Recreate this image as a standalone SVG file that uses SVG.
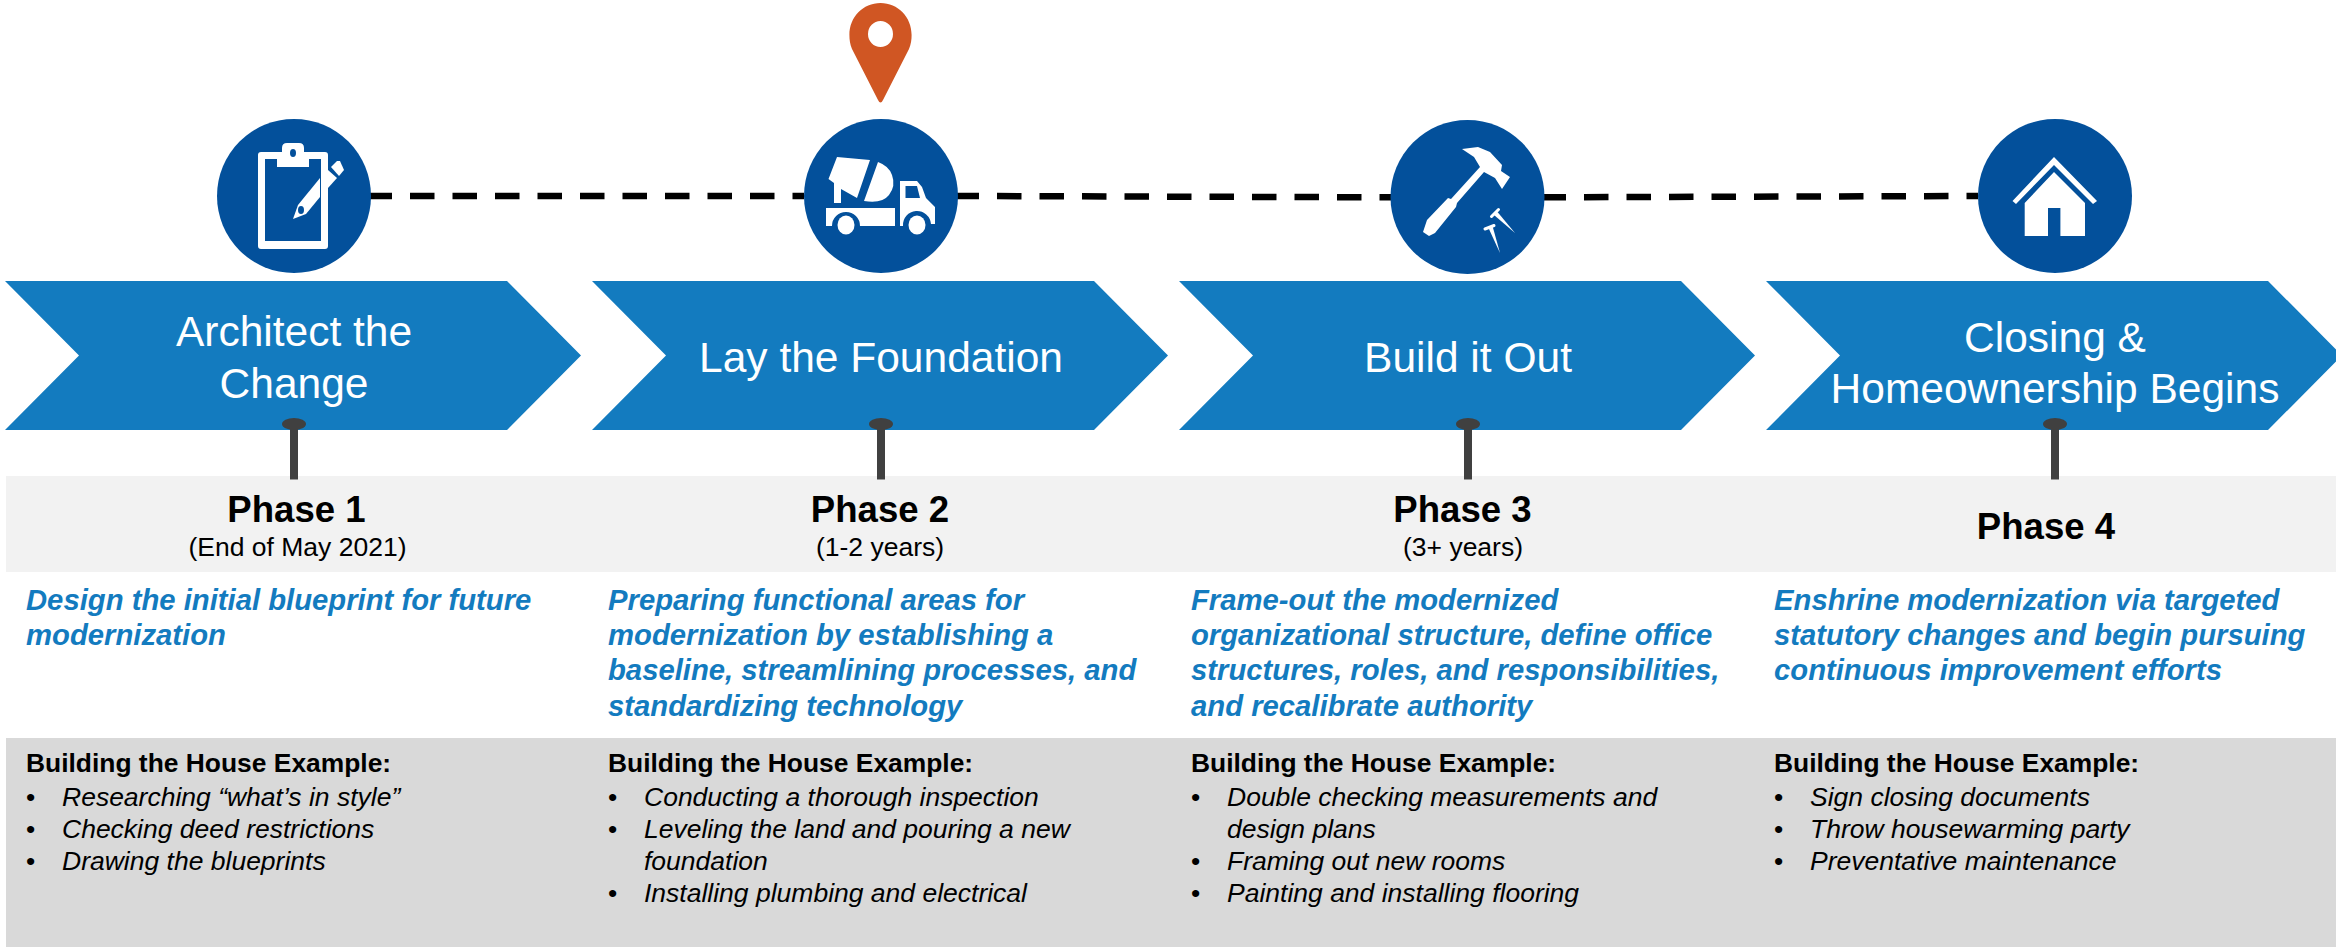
<svg xmlns="http://www.w3.org/2000/svg" width="2336" height="947" viewBox="0 0 2336 947">
<style>
text{font-family:"Liberation Sans",Arial,sans-serif}
.chev{fill:#137bbf}
.circ{fill:#03509b}
.ico{fill:#fff}
.cut{fill:#03509b}
.ct{font-size:42.500px;fill:#fff;text-anchor:middle}
.ph{font-size:36.600px;font-weight:bold;fill:#000;text-anchor:middle}
.sub{font-size:26.500px;fill:#000;text-anchor:middle}
.goal{font-size:29.250px;font-weight:bold;font-style:italic;fill:#137bbf}
.ex{font-size:26.400px;font-weight:bold;fill:#000}
.it{font-size:26.500px;font-style:italic;fill:#000}
.bu{font-size:26.400px;fill:#000}
.stem{fill:#404040}
.dash{fill:none;stroke:#000;stroke-width:6.500;stroke-dasharray:24.500 18;stroke-dashoffset:2.500}
.head{fill:none;stroke:#fff;stroke-width:3;stroke-linecap:round}
</style>
<defs>
<path id="chevron" d="M0 281H502L576 355.500L502 430H0L74 355.500Z"/>
<g id="post"><path d="M-4 424H4V479.500H-4Z"/><ellipse cx="0" cy="424" rx="12" ry="6"/></g>
</defs>
<rect id="band-phase" x="6" y="476" width="2330" height="96" fill="#f2f2f2"/>
<rect id="band-example" x="6" y="738" width="2330" height="209" fill="#d9d9d9"/>
<g id="connectors">
<path class="dash" d="M370 196H804"/>
<path class="dash" d="M957 196L1391 197.300"/>
<path class="dash" d="M1544 197.300L1978 196"/>
</g>
<g id="phase1">
<use href="#chevron" class="chev" x="5"/>
<use href="#post" class="stem" x="294"/>
<circle class="circ" cx="294" cy="196" r="77"/>
<g class="ico">
<path fill-rule="evenodd" d="M261 152H282V148Q282 143 287 143H299Q304 143 304 148V152H325Q328 152 328 155V246Q328 249 325 249H261Q258 249 258 246V155Q258 152 261 152ZM265 159V241H321V159H309V167H277V159Z"/>
<path d="M298 205L320 178V197L306 214L293 219Z"/>
<path d="M328 170L337 178L328 188Z"/>
<path d="M331 167L337 161H340L344 170L339 176Z"/>
</g>
<ellipse class="cut" cx="293" cy="153" rx="3" ry="4"/>
<ellipse class="cut" cx="301" cy="210" rx="3" ry="4"/>
<text class="ct" x="294" y="346">Architect the</text>
<text class="ct" x="294" y="398">Change</text>
<text class="ph" x="296.500" y="522">Phase 1</text>
<text class="sub" x="297.500" y="556">(End of May 2021)</text>
<text class="goal"><tspan x="26" y="610">Design the initial blueprint for future</tspan><tspan x="26" y="645">modernization</tspan></text>
<text class="ex" x="26" y="772">Building the House Example:</text>
<text class="bu" x="26" y="806">•</text><text class="it" x="62" y="806">Researching “what’s in style”</text>
<text class="bu" x="26" y="838">•</text><text class="it" x="62" y="838">Checking deed restrictions</text>
<text class="bu" x="26" y="870">•</text><text class="it" x="62" y="870">Drawing the blueprints</text>
</g>
<g id="phase2">
<use href="#chevron" class="chev" x="592"/>
<use href="#post" class="stem" x="881"/>
<circle class="circ" cx="881" cy="196" r="77"/>
<path id="pin" fill="#d05623" fill-rule="evenodd" d="M880.500 3C863 3 849.400 17 849.400 35C849.400 40 850 44 852 49L878 100Q880.500 105 883 100L909 49C911 44 911.600 40 911.600 35C911.600 17 898 3 880.500 3ZM880.500 21A12.500 13 0 1 1 880.500 47A12.500 13 0 1 1 880.500 21Z"/>
<g class="ico">
<path d="M837 157L870 160L857 198L841 189V203H834V183L828.500 179Z"/>
<path d="M878 162Q889 166 892 175Q896 186 889 195Q882 204 864 201Z"/>
<path d="M826 208H895V226H860A14 14 0 0 0 832 226H826Z"/>
<path fill-rule="evenodd" d="M900 181H917L922 187L926 198L935 207V224H931A14 14 0 0 0 903 226H900ZM905.500 186V198H920L917 186Z"/>
<ellipse cx="846" cy="225" rx="8.500" ry="9.500"/>
<ellipse cx="917" cy="225" rx="8.500" ry="9.500"/>
</g>
<text class="ct" x="881" y="372">Lay the Foundation</text>
<text class="ph" x="880" y="522">Phase 2</text>
<text class="sub" x="880" y="556">(1-2 years)</text>
<text class="goal"><tspan x="608" y="610">Preparing functional areas for</tspan><tspan x="608" y="645">modernization by establishing a</tspan><tspan x="608" y="680">baseline, streamlining processes, and</tspan><tspan x="608" y="716">standardizing technology</tspan></text>
<text class="ex" x="608" y="772">Building the House Example:</text>
<text class="bu" x="608" y="806">•</text><text class="it" x="644" y="806">Conducting a thorough inspection</text>
<text class="bu" x="608" y="838">•</text><text class="it" x="644" y="838">Leveling the land and pouring a new</text>
<text class="it" x="644" y="870">foundation</text>
<text class="bu" x="608" y="902">•</text><text class="it" x="644" y="902">Installing plumbing and electrical</text>
</g>
<g id="phase3">
<use href="#chevron" class="chev" x="1179"/>
<use href="#post" class="stem" x="1468"/>
<circle class="circ" cx="1467.500" cy="197" r="77"/>
<g class="ico">
<path d="M1462 149L1478 147L1490 152L1502 165L1501 171L1510 177L1502 189L1495 178L1484 172L1457 203L1456 207L1435 233L1429 236L1423 232L1427 220L1448 198L1451 199L1480 167L1474 157Z"/>
<path d="M1494 215L1497.500 212L1515 233Z"/>
<path d="M1488.500 228L1492.500 226L1500 253Z"/>
</g>
<path class="head" d="M1491.500 216.500L1498.500 209.500"/>
<path class="head" d="M1485 229L1494 225.500"/>
<text class="ct" x="1468" y="372">Build it Out</text>
<text class="ph" x="1462.500" y="522">Phase 3</text>
<text class="sub" x="1463" y="556">(3+ years)</text>
<text class="goal"><tspan x="1191" y="610">Frame-out the modernized</tspan><tspan x="1191" y="645">organizational structure, define office</tspan><tspan x="1191" y="680">structures, roles, and responsibilities,</tspan><tspan x="1191" y="716">and recalibrate authority</tspan></text>
<text class="ex" x="1191" y="772">Building the House Example:</text>
<text class="bu" x="1191" y="806">•</text><text class="it" x="1227" y="806">Double checking measurements and</text>
<text class="it" x="1227" y="838">design plans</text>
<text class="bu" x="1191" y="870">•</text><text class="it" x="1227" y="870">Framing out new rooms</text>
<text class="bu" x="1191" y="902">•</text><text class="it" x="1227" y="902">Painting and installing flooring</text>
</g>
<g id="phase4">
<use href="#chevron" class="chev" x="1766"/>
<use href="#post" class="stem" x="2055"/>
<circle class="circ" cx="2055" cy="196" r="77"/>
<g class="ico">
<path d="M2054 157L2097 201L2093 204L2054 165L2016 204L2012.500 201Z"/>
<path d="M2054 172L2085 203V236H2060.400V208H2048V236H2024.700V203Z"/>
</g>
<text class="ct" x="2055" y="352">Closing &amp;</text>
<text class="ct" x="2055" y="403">Homeownership Begins</text>
<text class="ph" x="2046" y="539">Phase 4</text>
<text class="goal"><tspan x="1774" y="610">Enshrine modernization via targeted</tspan><tspan x="1774" y="645">statutory changes and begin pursuing</tspan><tspan x="1774" y="680">continuous improvement efforts</tspan></text>
<text class="ex" x="1774" y="772">Building the House Example:</text>
<text class="bu" x="1774" y="806">•</text><text class="it" x="1810" y="806">Sign closing documents</text>
<text class="bu" x="1774" y="838">•</text><text class="it" x="1810" y="838">Throw housewarming party</text>
<text class="bu" x="1774" y="870">•</text><text class="it" x="1810" y="870">Preventative maintenance</text>
</g>
</svg>
